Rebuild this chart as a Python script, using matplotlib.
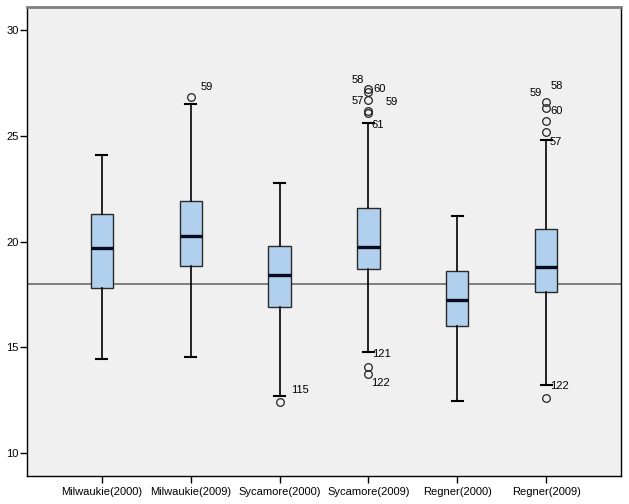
import matplotlib.pyplot as plt
import numpy as np

plt.rcParams['font.family'] = ['Liberation Sans', 'DejaVu Sans']

# box statistics
groups = ['Milwaukie(2000)', 'Milwaukie(2009)', 'Sycamore(2000)',
          'Sycamore(2009)', 'Regner(2000)', 'Regner(2009)']
whislo = [14.44, 14.54, 12.69, 14.79, 12.46, 13.23]
q1 = [17.80, 18.82, 16.90, 18.70, 16.00, 17.60]
med = [19.69, 20.26, 18.43, 19.73, 17.22, 18.79]
q3 = [21.30, 21.90, 19.81, 21.58, 18.60, 20.59]
whishi = [24.09, 26.50, 22.77, 25.62, 21.20, 24.80]
fliers = [[], [26.82], [12.41],
          [27.21, 27.07, 26.69, 26.18, 26.06, 14.08, 13.75],
          [], [26.61, 26.33, 25.70, 25.19, 12.61]]
ref_value = 18.0

# outlier case labels: group index, value, label
case_grp = [1, 2, 3, 3, 3, 3, 3, 3, 3, 5, 5, 5, 5, 5]
case_val = [26.82, 12.41, 27.21, 27.21, 26.69, 26.69, 25.62, 14.79, 13.75,
            26.61, 26.61, 26.33, 24.80, 13.23]
case_lab = ['59', '115', '58', '60', '57', '59', '61', '121', '122',
            '59', '58', '60', '57', '122']
# text offsets in pixels (dx, dy) and alignment
case_off = [(10, 10.5), (12, 12), (-4.5, 9), (4.5, 0), (-4.5, -1), (17.5, -2),
            (3, -2.5), (4, -2.5), (3, -9), (-4.5, 9), (4.5, 16), (4.5, -3.6),
            (3.5, -1.7), (3.5, -1.3)]
case_ha = ['left', 'left', 'right', 'left', 'right', 'left', 'left', 'left',
           'left', 'right', 'left', 'left', 'left', 'left']

stats = []
for i, g in enumerate(groups):
    stats.append(dict(label=g, whislo=whislo[i], q1=q1[i], med=med[i],
                      q3=q3[i], whishi=whishi[i], fliers=fliers[i]))

fig = plt.figure(figsize=(6.29, 5.04), dpi=100)
ax = fig.add_axes([27 / 629, 1 - 476 / 504, 594 / 629, 469 / 504])
ax.set_facecolor('#f0f0f0')

pos = np.arange(len(groups))
ax.axhline(ref_value, color='#606060', lw=1.1, zorder=1)
ax.bxp(stats, positions=pos, widths=0.25, patch_artist=True,
       boxprops=dict(facecolor='#b0d0ee', edgecolor='#2a2a2a', lw=1.0),
       medianprops=dict(color='#0a0a1e', lw=2.4),
       whiskerprops=dict(color='black', lw=1.2),
       capprops=dict(color='black', lw=1.5),
       capwidths=0.12,
       flierprops=dict(marker='o', markersize=5.5, markerfacecolor='none',
                       markeredgecolor='#222222', markeredgewidth=0.9))

for g, v, t, off, ha in zip(case_grp, case_val, case_lab, case_off, case_ha):
    ax.annotate(t, xy=(pos[g], v), xytext=off, textcoords='offset pixels',
                ha=ha, va='center', fontsize=8, color='black')

ax.set_xlim(-0.84, 5.84)
ax.set_ylim(8.91, 31.09)
ax.set_yticks([10, 15, 20, 25, 30])
ax.set_xticks(pos)
ax.set_xticklabels(groups)
ax.tick_params(axis='both', labelsize=8, direction='out', length=5,
               width=1, color='black')
ax.tick_params(axis='y', pad=1)
ax.tick_params(axis='x', pad=3)

for s in ['left', 'bottom', 'right']:
    ax.spines[s].set_color('black')
    ax.spines[s].set_linewidth(1)
ax.spines['top'].set_color('#808080')
ax.spines['top'].set_linewidth(2)

fig.savefig('out.png', dpi=100, facecolor='white')
